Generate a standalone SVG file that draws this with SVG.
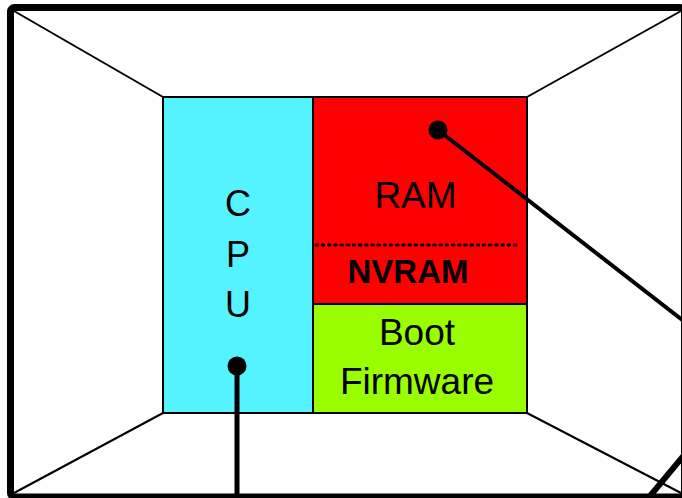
<svg xmlns="http://www.w3.org/2000/svg" width="682" height="498" viewBox="0 0 682 498">
<style>
.frame{fill:#fff;stroke:#000;stroke-width:7}
.diag{stroke:#000;stroke-width:2;fill:none}
.box{stroke:#000;stroke-width:2}
.lbl{font-family:"Liberation Sans",Arial,sans-serif;font-size:37px;text-anchor:middle;fill:#000}
.cpu{font-size:36px}
.bold{font-weight:bold;font-size:33px}
.wire{stroke:#000;fill:none}
</style>
<rect x="0" y="0" width="682" height="498" fill="#fff"/>
<rect class="frame" x="10.5" y="7.5" width="674" height="489.5" rx="4"/>
<g id="connectors">
<line class="diag" x1="14" y1="11" x2="163" y2="97"/>
<line class="diag" x1="681" y1="11" x2="527" y2="97"/>
<line class="diag" x1="14" y1="493" x2="163" y2="413"/>
<line class="diag" x1="681" y1="493" x2="527" y2="413"/>
</g>
<g id="cpu">
<rect class="box" x="163" y="97" width="150" height="316" fill="#55F2FF"/>
<text class="lbl cpu" x="238" y="216">C</text>
<text class="lbl cpu" x="238" y="267">P</text>
<text class="lbl cpu" x="238" y="317">U</text>
</g>
<g id="ram">
<rect class="box" x="313" y="97" width="214" height="207" fill="#FF0000"/>
<text class="lbl" x="415.5" y="208">RAM</text>
<line x1="316" y1="245" x2="517" y2="245" stroke="#000" stroke-width="3" stroke-dasharray="1.5 4.7" stroke-linecap="round"/>
<text class="lbl bold" x="408" y="283">NVRAM</text>
</g>
<g id="boot">
<rect class="box" x="313" y="304" width="214" height="109" fill="#99FF00"/>
<text class="lbl" x="417" y="345">Boot</text>
<text class="lbl" x="417" y="394">Firmware</text>
</g>
<g id="wires">
<line class="wire" x1="438" y1="130" x2="690" y2="326" stroke-width="4"/>
<circle cx="438" cy="130" r="9.5" fill="#000"/>
<line class="wire" x1="237" y1="366" x2="237" y2="500" stroke-width="5"/>
<circle cx="237" cy="366" r="9.5" fill="#000"/>
<line class="wire" x1="640" y1="508" x2="690" y2="448" stroke-width="6"/>
</g>
</svg>
